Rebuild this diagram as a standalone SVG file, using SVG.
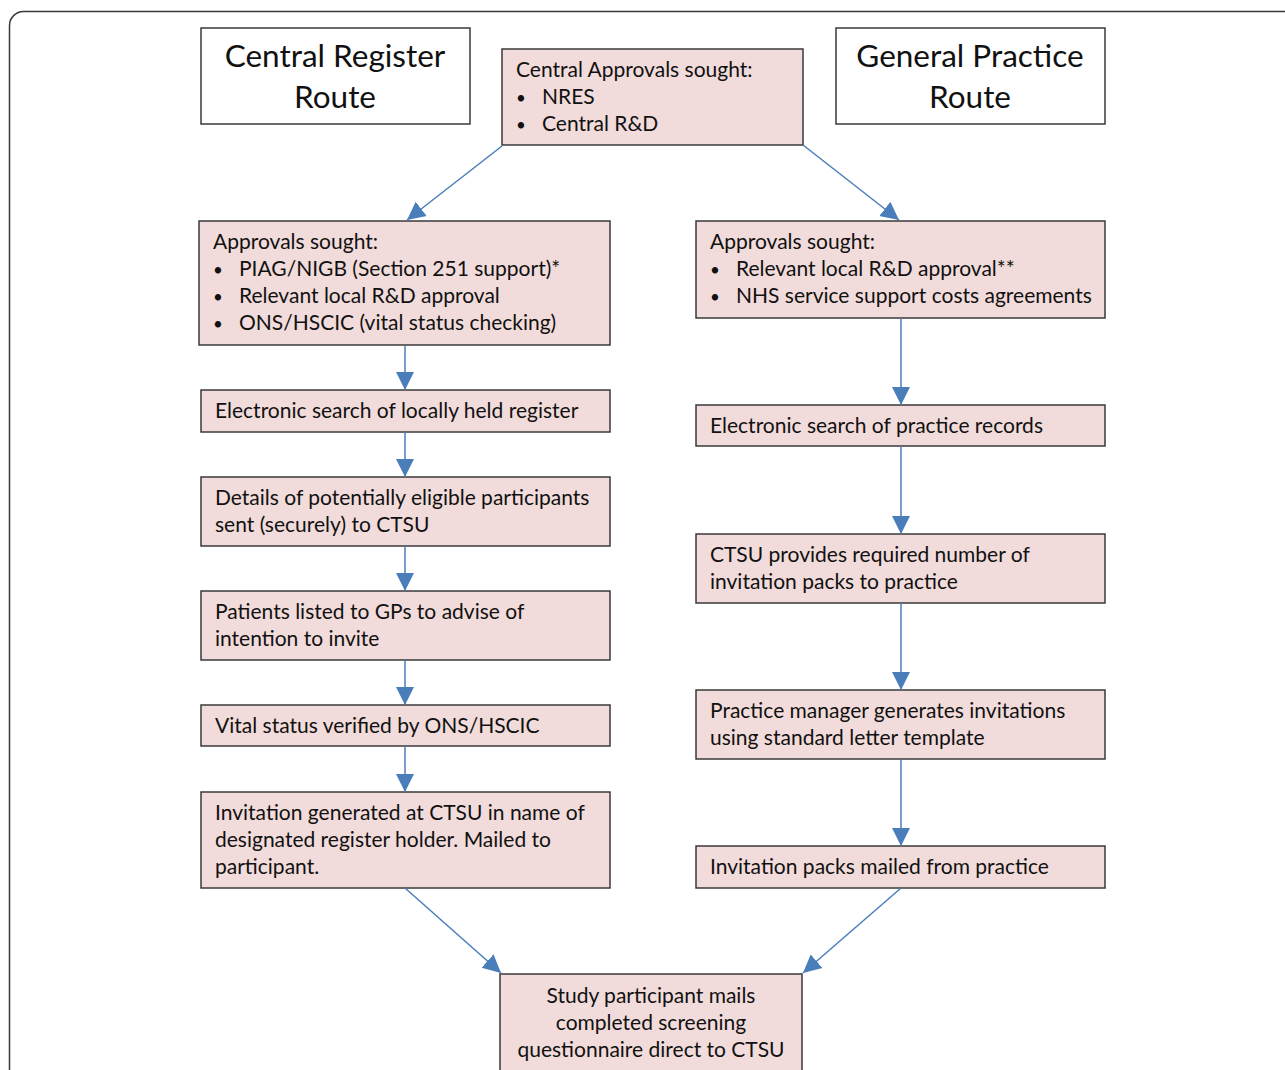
<svg xmlns="http://www.w3.org/2000/svg" width="1285" height="1070" viewBox="0 0 1285 1070">
<style>
.frame{fill:none;stroke:#3a3a3a;stroke-width:1.5}
.hdr{fill:#fff;stroke:#3a3a3a;stroke-width:1.5}
.box{fill:#f2dcdb;stroke:#3a3a3a;stroke-width:1.5}
text{font-family:Lato,"Open Sans","Liberation Sans",sans-serif;font-size:21px;fill:#111}
.big{font-size:31.5px;text-anchor:middle}
.mid{text-anchor:middle}
.b{font-size:17px}
.con line{stroke:#4a7ebb;stroke-width:1.5;marker-end:url(#ah)}
</style>
<defs>
<marker id="ah" markerUnits="userSpaceOnUse" markerWidth="20" markerHeight="20" viewBox="0 -10 20 20" refX="18" refY="0" orient="auto">
<path d="M0,-9 L18,0 L0,9 z" fill="#4a7ebb"/>
</marker>
</defs>
<rect class="frame" x="9.5" y="11.5" width="1300" height="1100" rx="14"/>
<g id="crr"><rect class="hdr" x="201" y="28" width="269" height="96"/><text class="big" x="335" y="67">Central Register</text><text class="big" x="335" y="108">Route</text></g>
<g id="gpr"><rect class="hdr" x="836" y="28" width="269" height="96"/><text class="big" x="970" y="67">General Practice</text><text class="big" x="970" y="108">Route</text></g>
<g id="central"><rect class="box" x="502" y="49" width="301" height="96"/><text x="516" y="77">Central Approvals sought:</text><text class="b" x="516" y="104">•</text><text x="542" y="104">NRES</text><text class="b" x="516" y="131">•</text><text x="542" y="131">Central R&amp;D</text></g>
<g id="lapp"><rect class="box" x="199" y="221" width="411" height="124"/><text x="213" y="249">Approvals sought:</text><text class="b" x="213" y="276">•</text><text x="239" y="276">PIAG/NIGB (Section 251 support)*</text><text class="b" x="213" y="303">•</text><text x="239" y="303">Relevant local R&amp;D approval</text><text class="b" x="213" y="330">•</text><text x="239" y="330">ONS/HSCIC (vital status checking)</text></g>
<g id="rapp"><rect class="box" x="696" y="221" width="409" height="97"/><text x="710" y="249">Approvals sought:</text><text class="b" x="710" y="276">•</text><text x="736" y="276">Relevant local R&amp;D approval**</text><text class="b" x="710" y="303">•</text><text x="736" y="303">NHS service support costs agreements</text></g>
<g id="l1"><rect class="box" x="201" y="390" width="409" height="42"/><text x="215" y="418">Electronic search of locally held register</text></g>
<g id="l2"><rect class="box" x="201" y="477" width="409" height="69"/><text x="215" y="505">Details of potentially eligible participants</text><text x="215" y="532">sent (securely) to CTSU</text></g>
<g id="l3"><rect class="box" x="201" y="591" width="409" height="69"/><text x="215" y="619">Patients listed to GPs to advise of</text><text x="215" y="646">intention to invite</text></g>
<g id="l4"><rect class="box" x="201" y="705" width="409" height="41"/><text x="215" y="733">Vital status verified by ONS/HSCIC</text></g>
<g id="l5"><rect class="box" x="201" y="792" width="409" height="96"/><text x="215" y="820">Invitation generated at CTSU in name of</text><text x="215" y="847">designated register holder. Mailed to</text><text x="215" y="874">participant.</text></g>
<g id="r1"><rect class="box" x="696" y="405" width="409" height="41"/><text x="710" y="433">Electronic search of practice records</text></g>
<g id="r2"><rect class="box" x="696" y="534" width="409" height="69"/><text x="710" y="562">CTSU provides required number of</text><text x="710" y="589">invitation packs to practice</text></g>
<g id="r3"><rect class="box" x="696" y="690" width="409" height="69"/><text x="710" y="718">Practice manager generates invitations</text><text x="710" y="745">using standard letter template</text></g>
<g id="r4"><rect class="box" x="696" y="846" width="409" height="42"/><text x="710" y="874">Invitation packs mailed from practice</text></g>
<g id="final"><rect class="box" x="500" y="974" width="302" height="120"/><text class="mid" x="651" y="1003">Study participant mails</text><text class="mid" x="651" y="1030">completed screening</text><text class="mid" x="651" y="1057">questionnaire direct to CTSU</text></g>
<g class="con" id="connectors">
<line x1="502" y1="146" x2="407" y2="220"/>
<line x1="803" y1="145" x2="899" y2="220"/>
<line x1="405" y1="346" x2="405" y2="390"/>
<line x1="405" y1="432" x2="405" y2="477"/>
<line x1="405" y1="546" x2="405" y2="591"/>
<line x1="405" y1="660" x2="405" y2="705"/>
<line x1="405" y1="746" x2="405" y2="792"/>
<line x1="901" y1="318" x2="901" y2="405"/>
<line x1="901" y1="446" x2="901" y2="534"/>
<line x1="901" y1="603" x2="901" y2="690"/>
<line x1="901" y1="759" x2="901" y2="846"/>
<line x1="405" y1="888" x2="501" y2="973"/>
<line x1="901" y1="888" x2="803" y2="973"/>
</g>
</svg>
